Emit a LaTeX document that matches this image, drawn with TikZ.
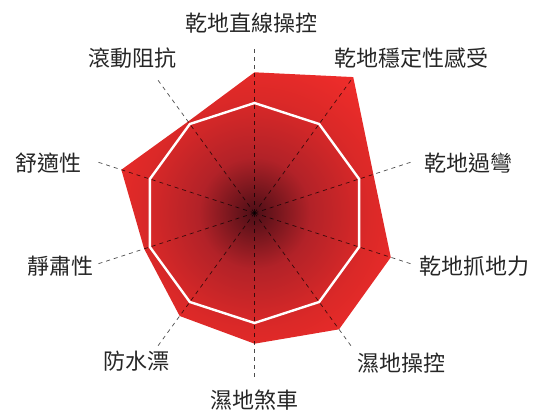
\documentclass[tikz,border=0pt]{standalone}
\usepackage{fontspec}
\setmainfont{Noto Sans CJK TC}
\definecolor{chartred}{RGB}{237,44,42}
\definecolor{chartmid}{RGB}{178,34,40}
\definecolor{chartdark}{RGB}{76,14,22}
\definecolor{labelgray}{RGB}{38,38,38}
\pgfdeclareradialshading{radarglow}{\pgfpoint{0bp}{0bp}}{color(0bp)=(chartdark); color(7bp)=(chartmid); color(14bp)=(chartred!88!chartdark); color(20bp)=(chartred); color(25bp)=(chartred); color(50bp)=(chartred)}

\begin{document}
\begin{tikzpicture}[x=1pt, y=1pt,
        axis/.style={black, opacity=0.7, line width=0.7pt, dash pattern=on 4pt off 4pt},
        ring/.style={white, line width=2.4pt, line join=miter},
        lbl/.style={text=labelgray, font=\fontsize{22}{26}\selectfont, inner sep=0pt}]
    \useasboundingbox (-254.5,-199) rectangle (283.5,213);
    \coordinate (o) at (0,0);
    % score of each axis
    \foreach \a/\r [count=\i] in {90/140.7, 54/168, 18/125, -18/143.3, -54/143.8,
            -90/130.7, -126/127.3, -162/116, -198/140, -234/113}
        \coordinate (v\i) at (\a:\r);
    \begin{scope}
        \clip (v1) -- (v2) -- (v3) -- (v4) -- (v5) -- (v6) -- (v7) -- (v8) -- (v9) -- (v10) -- cycle;
        \shade[shading=radarglow] (o) circle (200);
    \end{scope}
    % reference ring
    \draw[ring] (90:110) \foreach \a in {54,18,...,-234} { -- (\a:110) } -- cycle;
    % axes and labels
    \foreach \a [count=\i] in {90,54,...,-234} {
        \coordinate (e\i) at (\a:167);
        \draw[axis] (o) -- (e\i);
    }
    \foreach \i/\x/\y/\t in {1/-2.5/190/乾地直線操控, 2/157/155/乾地穩定性感受,
            3/214/50/乾地過彎, 4/220/-53.5/乾地抓地力, 5/147/-150/濕地操控,
            6/0/-187/濕地煞車, 7/-118/-148.5/防水漂, 8/-194/-53.5/靜肅性,
            9/-205.5/50/舒適性, 10/-122/155/滾動阻抗}
        \node[lbl] (l\i) at (\x,\y) {\t};
\end{tikzpicture}
\end{document}
